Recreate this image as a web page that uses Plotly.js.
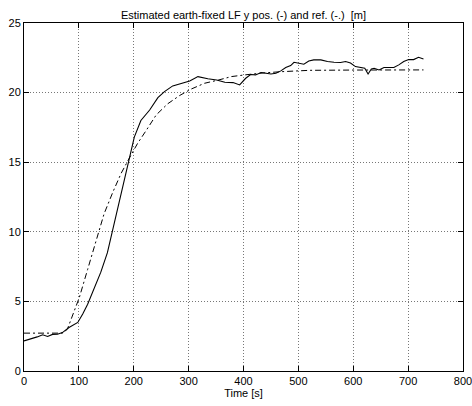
<!DOCTYPE html>
<html>
<head>
<meta charset="utf-8">
<script src="https://cdn.plot.ly/plotly-3.0.1.min.js"></script>
<style>html,body{margin:0;padding:0;background:#fff;}#chart{width:472px;height:406px;}</style>
</head>
<body>
<div id="chart"></div>
<script>
// Estimated position (solid)
const estTime = [0, 12, 24, 34, 43, 52, 61, 70, 82, 98, 107, 116, 128, 140, 152, 162, 174, 183, 192, 201, 213, 229, 244, 256, 271, 287, 302, 317, 335, 351, 366, 381, 393, 404, 413, 422, 432, 441, 450, 459, 468, 477, 486, 492, 501, 510, 519, 528, 541, 553, 565, 577, 586, 595, 604, 613, 621, 627, 633, 638, 647, 656, 665, 674, 683, 692, 701, 710, 719, 728];
const estPos = [2.16, 2.28, 2.45, 2.6, 2.48, 2.63, 2.64, 2.76, 3.12, 3.49, 4.09, 4.8, 5.9, 7.1, 8.5, 10.2, 12.1, 13.6, 15.3, 16.8, 18.0, 18.75, 19.64, 20.07, 20.48, 20.67, 20.84, 21.15, 20.99, 20.91, 20.74, 20.72, 20.55, 21.03, 21.3, 21.27, 21.44, 21.39, 21.34, 21.39, 21.56, 21.8, 21.94, 22.18, 22.1, 22.04, 22.27, 22.35, 22.35, 22.23, 22.18, 22.16, 22.23, 22.13, 21.87, 21.82, 21.75, 21.34, 21.7, 21.75, 21.63, 21.8, 21.8, 21.8, 21.99, 22.23, 22.37, 22.37, 22.54, 22.42];
// Reference (dash-dot)
const refTime = [0, 40, 70, 79, 88, 101, 116, 131, 146, 162, 177, 192, 207, 223, 241, 262, 284, 305, 329, 354, 378, 402, 432, 468, 489, 520, 600, 728];
const refPos = [2.72, 2.72, 2.72, 3.0, 3.97, 5.3, 7.3, 9.25, 11.3, 12.86, 14.2, 15.3, 16.35, 17.3, 18.4, 19.2, 19.8, 20.26, 20.67, 20.9, 21.15, 21.27, 21.4, 21.5, 21.56, 21.6, 21.62, 21.63];
const xTicks = [0, 100, 200, 300, 400, 500, 600, 700, 800];
const yTicks = [0, 5, 10, 15, 20, 25];

const font = {family: 'Liberation Sans, Arial, sans-serif', size: 11, color: '#000'};
const axisCommon = {
  showline: true, linecolor: '#000', linewidth: 1, mirror: 'ticks',
  ticks: 'inside', ticklen: 5, tickcolor: '#000', tickwidth: 1,
  showgrid: true, gridcolor: '#777', griddash: '1px,2px', gridwidth: 1,
  zeroline: false, tickfont: font, ticklabeloverflow: 'allow'
};
const data = [
  {x: estTime, y: estPos, type: 'scatter', mode: 'lines', line: {color: '#000', width: 1.1}, hoverinfo: 'skip'},
  {x: refTime, y: refPos, type: 'scatter', mode: 'lines', line: {color: '#000', width: 1, dash: '6px,3px,2px,3px'}, hoverinfo: 'skip'}
];
const layout = {
  width: 472, height: 406,
  margin: {l: 24, r: 9, t: 23, b: 35},
  paper_bgcolor: '#fff', plot_bgcolor: '#fff',
  showlegend: false, font: font,
  title: {text: 'Estimated earth-fixed LF y pos. (-) and ref. (-.)\u00a0\u00a0[m]', font: font, x: 0.5, xref: 'paper', xanchor: 'center', y: 1, yref: 'paper', yanchor: 'bottom', pad: {b: 4}},
  xaxis: Object.assign({}, axisCommon, {range: [0, 800], tickvals: xTicks, ticktext: xTicks.map(String),
    title: {text: 'Time [s]', font: font, standoff: 2}}),
  yaxis: Object.assign({}, axisCommon, {range: [0, 25], tickvals: yTicks, ticktext: yTicks.map(String)})
};
Plotly.newPlot('chart', data, layout, {staticPlot: true, displayModeBar: false});
</script>
</body>
</html>
